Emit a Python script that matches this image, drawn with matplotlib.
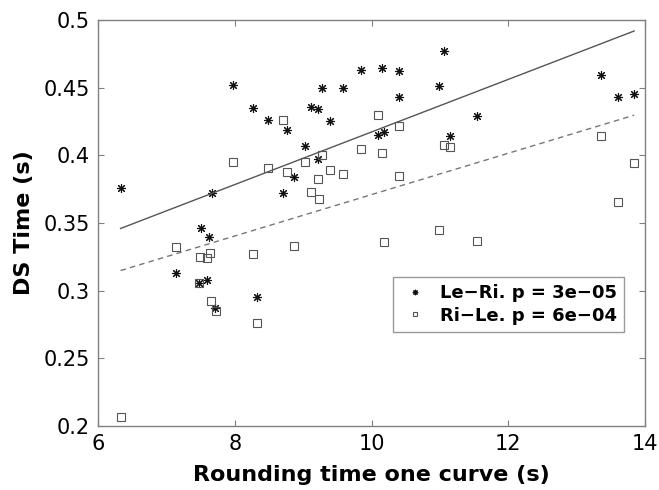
import matplotlib.pyplot as plt
import numpy as np

# Le-Ri (stars)
lr_x = [6.33, 7.98, 8.26, 8.48, 7.66, 7.51, 7.63, 7.14, 7.59, 7.71, 8.32, 7.48,
        8.77, 9.03, 8.86, 8.70, 9.22, 9.11, 9.22, 9.27, 9.39, 9.58, 9.85, 10.16,
        10.40, 10.40, 10.09, 10.18, 10.99, 11.06, 11.15, 11.54, 13.36, 13.60, 13.84]
lr_y = [0.376, 0.452, 0.435, 0.426, 0.372, 0.346, 0.340, 0.313, 0.308, 0.287, 0.295, 0.306,
        0.419, 0.407, 0.384, 0.372, 0.397, 0.436, 0.434, 0.450, 0.425, 0.450, 0.463, 0.4645,
        0.462, 0.443, 0.415, 0.417, 0.451, 0.477, 0.414, 0.429, 0.459, 0.443, 0.445]

# Ri-Le (squares)
rl_x = [7.98, 8.48, 7.14, 8.71, 8.77, 9.03, 9.27, 9.22, 9.39, 9.58, 9.11, 9.23,
        8.86, 9.85, 10.09, 10.16, 10.40, 10.40, 10.18, 10.99, 11.06, 11.15, 11.54,
        13.36, 13.84, 13.60, 7.49, 7.60, 7.64, 8.26, 7.48, 7.65, 7.72, 8.32, 6.34]
rl_y = [0.395, 0.391, 0.332, 0.426, 0.388, 0.395, 0.400, 0.3825, 0.389, 0.386, 0.373, 0.3675,
        0.333, 0.405, 0.430, 0.4015, 0.422, 0.3845, 0.336, 0.345, 0.408, 0.406, 0.337,
        0.4145, 0.394, 0.3655, 0.325, 0.324, 0.3276, 0.327, 0.306, 0.2926, 0.2850, 0.276, 0.2064]

labels = ['Le\u2212Ri. p = 3e\u221205', 'Ri\u2212Le. p = 6e\u221204']

fig = plt.figure(figsize=(6.59, 4.9), dpi=100)
ax = fig.add_axes([0.1487, 0.1306, 0.8301, 0.8286])

# matlab-style asterisk = 8 arms
ax.plot(lr_x, lr_y, linestyle='none', marker=(8, 2, 0), ms=6.5, color='#111111', mew=0.8, label=labels[0])
ax.plot(rl_x, rl_y, linestyle='none', marker='s', ms=5.5, mfc='none', mec='#555555', mew=0.8, label=labels[1])

# linear fits
xs = np.array([min(lr_x), max(lr_x)])
p1 = np.polyfit(lr_x, lr_y, 1)
p2 = np.polyfit(rl_x, rl_y, 1)
ax.plot(xs, np.polyval(p1, xs), '-', color='#555555', lw=1)
ax.plot(xs, np.polyval(p2, xs), '--', color='#777777', lw=1, dashes=(4, 3))

ax.set_xlim(6, 14)
ax.set_ylim(0.2, 0.5)
ax.set_xticks([6, 8, 10, 12, 14])
ax.set_yticks([0.2, 0.25, 0.3, 0.35, 0.4, 0.45, 0.5])
ax.set_yticklabels(['0.2', '0.25', '0.3', '0.35', '0.4', '0.45', '0.5'])
ax.tick_params(direction='in', length=4, width=0.8, color='#808080', labelsize=15,
               top=True, right=True, pad=6)
for s in ax.spines.values():
    s.set_color('#808080')
    s.set_linewidth(1)

ax.set_xlabel('Rounding time one curve (s)', fontsize=16, fontweight='bold', labelpad=8)
ax.set_ylabel('DS Time (s)', fontsize=16, fontweight='bold', labelpad=7)

leg = ax.legend(loc='upper left', bbox_to_anchor=(393 / 659, 1 - 277 / 490),
                bbox_transform=fig.transFigure, borderaxespad=0,
                prop={'weight': 'bold', 'size': 13}, fancybox=False, edgecolor='#808080',
                markerscale=0.6, handlelength=1.6, handletextpad=0.6, borderpad=0.4,
                labelspacing=0.25)
leg.get_frame().set_linewidth(1)

fig.savefig('out.png', dpi=100)
